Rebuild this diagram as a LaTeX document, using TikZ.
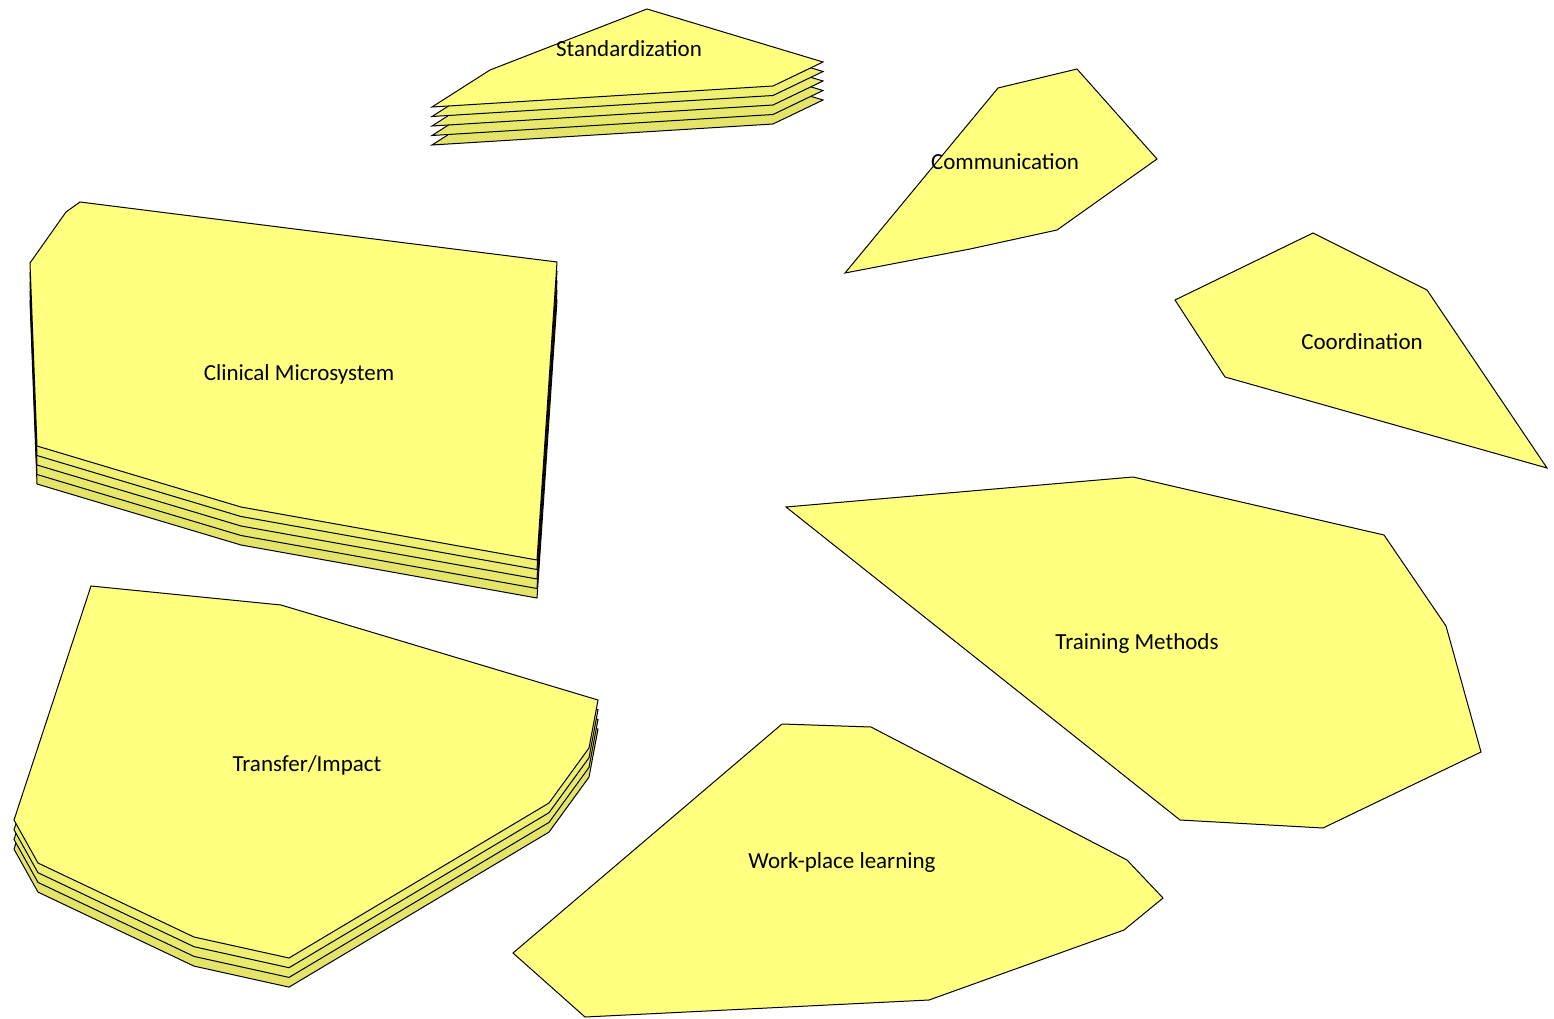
\documentclass[tikz,border=0pt]{standalone}
\usepackage{fontspec}
\setmainfont{Carlito}
\definecolor{pad}{HTML}{FFFF80}
\definecolor{padshade}{HTML}{E4E46A}
\tikzset{
  padshape/.style={draw=black, fill=pad, line width=1pt, line join=miter},
  padlayer/.style={draw=black, fill=padshade!#1!pad, line width=1pt, line join=miter},
  padlayer/.default=70,
  padlabel/.style={font=\fontsize{23}{27}\selectfont, text=black, inner sep=0pt},
}
% outlines of the pads (pixel coordinates, y downwards)
\def\stdpath{(647,9) -- (823,62) -- (773,86) -- (432,107) -- (490,70) -- cycle}
\def\clinpath{(80,202) -- (557,262) -- (537,560) -- (241,507) -- (37,446) -- (30,263) -- (66,212) -- cycle}
\def\tranpath{(91,586) -- (281,605) -- (598,700) -- (589,748) -- (549,803) -- (289,958) -- (194,937) -- (38,863) -- (14,820) -- cycle}
\def\commpath{(845,273) -- (998,88) -- (1077,69) -- (1157,159) -- (1057,230) -- (970,249) -- cycle}
\def\coorpath{(1175,300) -- (1313,233) -- (1427,290) -- (1547,468) -- (1225,377) -- cycle}
\def\trainpath{(786,507) -- (1133,477) -- (1384,535) -- (1446,626) -- (1481,752) -- (1323,828) -- (1180,820) -- cycle}
\def\workpath{(782,724) -- (871,727) -- (1127,860) -- (1163,898) -- (1124,930) -- (929,1000) -- (585,1017) -- (513,953) -- cycle}
\begin{document}
\begin{tikzpicture}[x=1pt, y=-1pt]
\useasboundingbox (0,0) rectangle (1554,1019);

% stacked pads
\foreach \k [evaluate=\k as \pct using int(40+15*\k)] in {4,3,2,1} {
  \draw[padlayer=\pct, yshift=-\k*9.5pt] \stdpath;
  \draw[padlayer=\pct, yshift=-\k*9.5pt] \clinpath;
}
\foreach \k [evaluate=\k as \pct using int(40+20*\k)] in {3,2,1} {
  \draw[padlayer=\pct, yshift=-\k*9.7pt] \tranpath;
}

% top sheets
\draw[padshape] \stdpath;
\draw[padshape] \clinpath;
\draw[padshape] \tranpath;
\draw[padshape] \commpath;
\draw[padshape] \coorpath;
\draw[padshape] \trainpath;
\draw[padshape] \workpath;

% labels
\node[padlabel] (standard) at (629,49) {Standardization};
\node[padlabel] (communic) at (1005,162) {Communication};
\node[padlabel] (clinical) at (299,374) {Clinical Microsystem};
\node[padlabel] (coordin) at (1362,342) {Coordination};
\node[padlabel] (training) at (1137,643) {Training Methods};
\node[padlabel] (transfer) at (307,765) {Transfer/Impact};
\node[padlabel] (workplace) at (842,862) {Work-place learning};
\end{tikzpicture}
\end{document}
